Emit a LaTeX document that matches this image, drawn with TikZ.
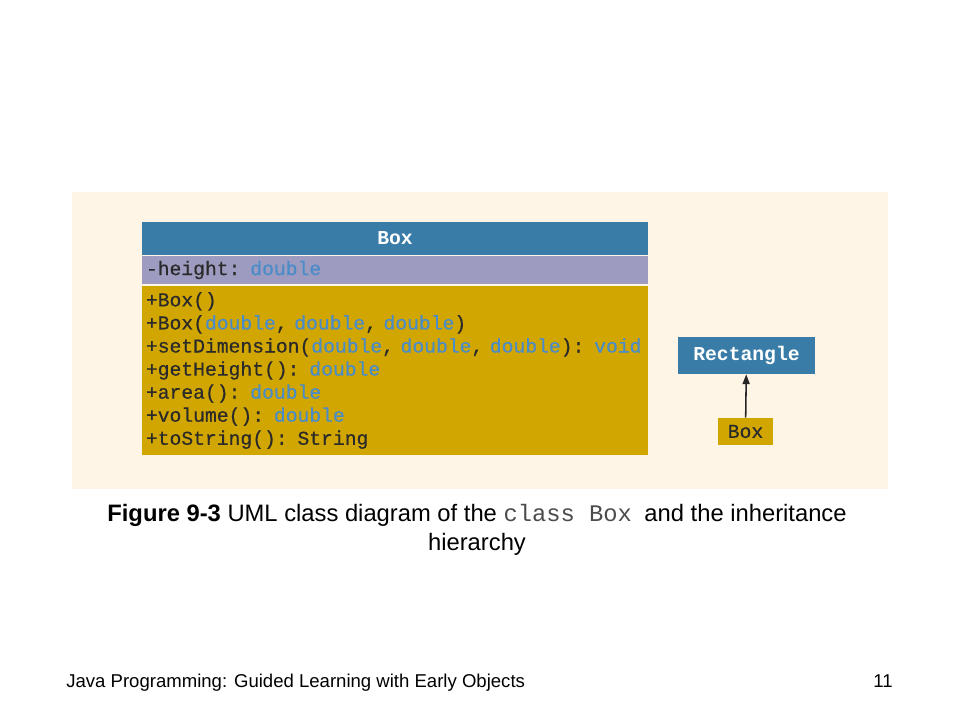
\documentclass[tikz,border=0pt]{standalone}
\usepackage{fontspec}
\setmainfont{Liberation Sans}
\setmonofont{Liberation Mono}
\newfontfamily\umlfont[FakeBold=0.5]{Liberation Mono}
\usetikzlibrary{arrows.meta}
\definecolor{umlblue}{HTML}{3A7CA8}
\definecolor{umllav}{HTML}{9E9BC1}
\definecolor{umlgold}{HTML}{D2A600}
\definecolor{panel}{HTML}{FEF5E7}
\definecolor{typeblue}{HTML}{4A8CC8}
\definecolor{codetext}{HTML}{2A2A2A}
\newcommand{\ty}[1]{\textcolor{typeblue}{#1}}
\begin{document}
\begin{tikzpicture}[x=0.025cm, y=-0.025cm, >=Stealth,
  code/.style={font=\umlfont\fontsize{14}{16.4}\selectfont, text=codetext},
  head/.style={fill=umlblue, text=white, font=\ttfamily\bfseries\fontsize{14}{16.4}\selectfont, inner sep=0pt},
  part/.style={code, align=left, text width=12.45cm, inner xsep=0.1cm, inner ysep=0pt}]
\useasboundingbox (0,0) rectangle (960,720);
\fill[white] (0,0) rectangle (960,720);
\fill[panel] (72,192) rectangle (888,489);

% class Box
\node[head, minimum width=12.65cm, minimum height=0.825cm] (boxname) at (395,238.5) {Box};
\node[part, fill=umllav, minimum height=0.7cm] (boxattr) at (395,270) {-height: \ty{double}};
\node[part, fill=umlgold, minimum height=4.225cm] (boxops) at (395,370.5) {+Box()\\
+Box(\ty{double}, \ty{double}, \ty{double})\\
+setDimension(\ty{double}, \ty{double}, \ty{double}): \ty{void}\\
+getHeight(): \ty{double}\\
+area(): \ty{double}\\
+volume(): \ty{double}\\
+toString(): String};

% inheritance hierarchy
\node[head, minimum width=3.425cm, minimum height=0.925cm] (rect) at (746.5,355.5) {Rectangle};
\node[code, fill=umlgold, inner sep=0pt, minimum width=1.375cm, minimum height=0.675cm] (sub) at (745.5,431.5) {Box};
\draw[-{Triangle[length=7pt, width=5pt]}, line width=1.1pt, black!85] (sub) -- (rect);

% caption
\node[align=center, font=\fontsize{16.9}{20.6}\selectfont] (caption) at (477,530)
  {\textbf{Figure 9-3} UML class diagram of the \textcolor{black!70}{\ttfamily class Box}\hspace{0.25em} and the inheritance\\hierarchy};

% footer
\node[anchor=base west, inner sep=0pt, font=\fontsize{13.2}{15}\selectfont] (title) at (66,687) {Java Programming: Guided Learning with Early Objects};
\node[anchor=base east, inner sep=0pt, font=\fontsize{13.2}{15}\selectfont] (page) at (893,687) {11};
\end{tikzpicture}
\end{document}
